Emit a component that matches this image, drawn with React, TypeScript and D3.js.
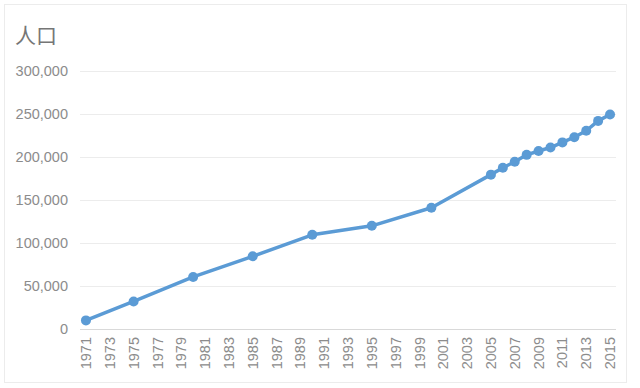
import React, { useEffect, useRef } from 'react';
import * as d3 from 'd3';

// years on the category axis
const years: number[] = d3.range(1971, 2016);
const pointYears: number[] = [1971, 1975, 1980, 1985, 1990, 1995, 2000, 2005, 2006, 2007, 2008, 2009, 2010, 2011, 2012, 2013, 2014, 2015];
const population: number[] = [10000, 32000, 60500, 84500, 109500, 120000, 141000, 179500, 187500, 194500, 202500, 207000, 211000, 217000, 223000, 230500, 242000, 249500];
const yTicks: number[] = [0, 50000, 100000, 150000, 200000, 250000, 300000];

const W = 640;
const H = 388;

const drawChart = (el: SVGSVGElement) => {
    const margin = { top: 71, right: 24, bottom: 59, left: 80 };
    const width = W - margin.left - margin.right;
    const height = H - margin.top - margin.bottom;

    const svg = d3.select(el);
    svg.selectAll('*').remove();

    // card background
    svg.append('rect')
        .attr('x', 4.5).attr('y', 4.5)
        .attr('width', 622).attr('height', 378)
        .attr('fill', '#fff')
        .attr('stroke', '#ececec');

    svg.append('text')
        .attr('x', 15).attr('y', 43)
        .text('人口')
        .style('font-family', '"Noto Sans CJK SC", sans-serif')
        .style('font-size', '21px')
        .attr('fill', '#767676');

    const g = svg.append('g')
        .attr('transform', `translate(${margin.left},${margin.top})`);

    const x = d3.scaleBand<number>()
        .domain(years)
        .range([0, width])
        .padding(0);

    const y = d3.scaleLinear()
        .domain([0, 300000])
        .range([height, 0]);

    // gridlines + y labels
    g.append('g')
        .call(d3.axisLeft(y).tickValues(yTicks).tickSize(-width).tickPadding(12).tickFormat(d3.format(',')))
        .call(ax => ax.select('.domain').remove())
        .call(ax => ax.selectAll('.tick line').attr('stroke', (d: any) => d === 0 ? '#d9d9d9' : '#ececec'))
        .call(ax => ax.selectAll('.tick text')
            .attr('fill', '#8c8c8c')
            .style('font-family', '"Liberation Sans", Arial, sans-serif')
            .style('font-size', '14.5px'));

    // x axis, labels every second year
    g.append('g')
        .attr('transform', `translate(0,${height})`)
        .call(d3.axisBottom(x).tickValues(years.filter((d, i) => i % 2 === 0)).tickSize(0).tickPadding(0))
        .call(ax => ax.select('.domain').remove())
        .call(ax => ax.selectAll('.tick text')
            .attr('transform', 'rotate(-90)')
            .attr('text-anchor', 'end')
            .attr('x', -8)
            .attr('dy', '0.35em')
            .attr('y', 0)
            .attr('fill', '#8c8c8c')
            .style('font-family', '"Liberation Sans", Arial, sans-serif')
            .style('font-size', '14.5px'));

    const data = pointYears.map((yr, i) => ({ year: yr, value: population[i] }));
    const cx = (d: { year: number }) => (x(d.year) as number) + x.bandwidth() / 2;

    g.append('path')
        .datum(data)
        .attr('fill', 'none')
        .attr('stroke', '#5b9bd5')
        .attr('stroke-width', 3.5)
        .attr('stroke-linejoin', 'round')
        .attr('d', d3.line<{ year: number; value: number }>()
            .x(cx)
            .y(d => y(d.value)));

    g.selectAll('.dot')
        .data(data)
        .enter().append('circle')
        .attr('class', 'dot')
        .attr('cx', cx)
        .attr('cy', d => y(d.value))
        .attr('r', 5)
        .attr('fill', '#5b9bd5');
};

const App = () => {
    const ref = useRef<SVGSVGElement>(null);

    useEffect(() => {
        if (ref.current) drawChart(ref.current);
    }, []);

    return (
        <svg ref={ref} width={W} height={H} style={{ display: 'block', position: 'absolute', left: 0, top: 0 }} />
    );
};

export default App;
